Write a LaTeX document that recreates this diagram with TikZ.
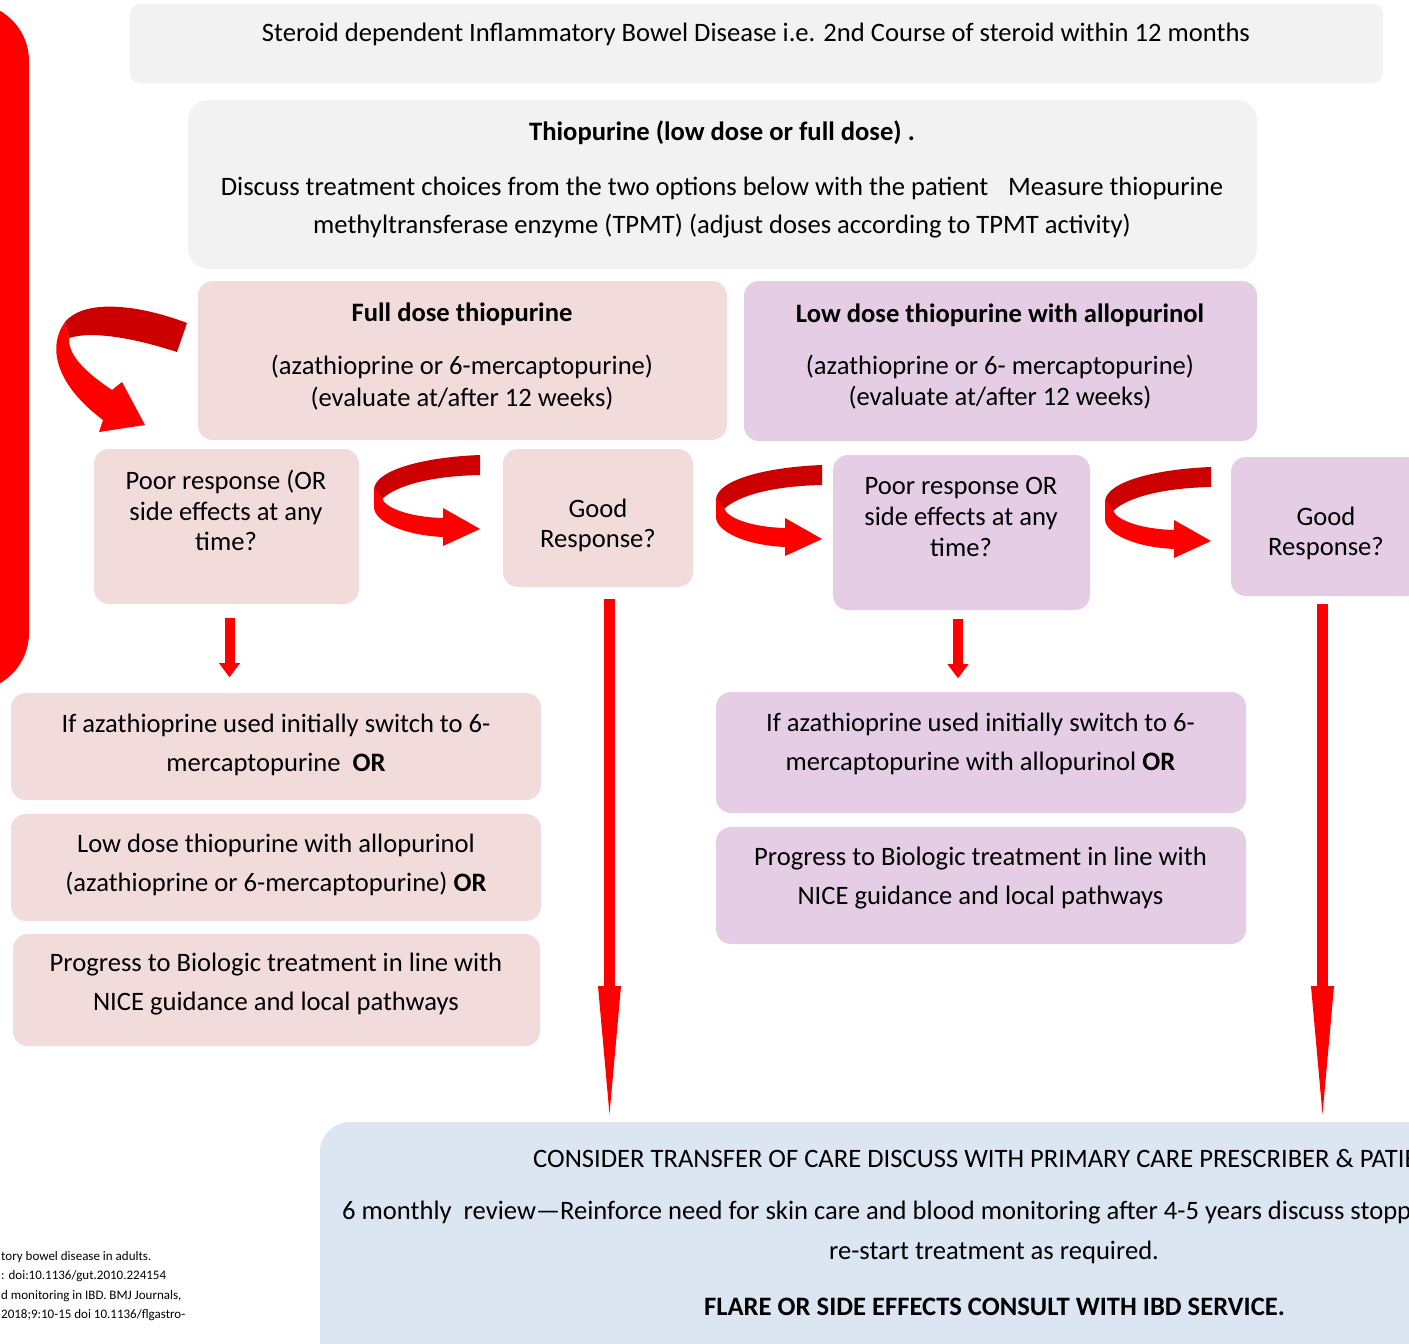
\documentclass[tikz,border=0pt]{standalone}
\usepackage{fontspec}
\setmainfont{Carlito}
\usetikzlibrary{arrows.meta}
\definecolor{boxgray}{HTML}{F2F2F2}
\definecolor{boxpink}{HTML}{F2DCDB}
\definecolor{boxlilac}{HTML}{E5CDE6}
\definecolor{boxblue}{HTML}{DCE6F2}
\definecolor{ribbondark}{HTML}{CC0000}
\definecolor{ribbonred}{HTML}{FF0000}
\tikzstyle{box}=[rectangle,rounded corners=15pt,inner sep=0pt]
\tikzstyle{txt}=[align=center,inner sep=0pt,font=\fontsize{26.6}{31}\selectfont]
\tikzset{turnarrow/.pic={
  \fill[ribbondark] (108,0) .. controls (55,2) and (4,14) .. (2,34) -- (10,44)
    .. controls (25,30) and (60,21) .. (108,20) -- cycle;
  \fill[ribbonred] (2,32) -- (2,52) .. controls (2,66) and (30,80) .. (71,82)
    -- (71,91) -- (108,74) -- (71,53) -- (71,63) .. controls (35,62) and (12,52) .. (10,43) -- cycle;
}}

\begin{document}
\begin{tikzpicture}[x=1pt,y=-1pt]
    \tikzstyle{graybox}=[box,fill=boxgray]
    \tikzstyle{pinkbox}=[box,fill=boxpink]
    \tikzstyle{lilacbox}=[box,fill=boxlilac]
    \tikzstyle{shortarrow}=[draw=ribbonred,line width=10pt,-{Triangle[length=14pt,width=21pt,line width=0pt]}]
    \tikzstyle{longarrow}=[draw=ribbonred,line width=11pt,-{Triangle[length=128pt,width=23pt,line width=0pt]}]
    \useasboundingbox (0,0) rectangle (1409,1344);
    \clip (0,0) rectangle (1409,1344);

    % red side bar
    \fill[ribbonred,rounded corners=58pt] (-60,3) rectangle (29,691);

    % top boxes
    \node[graybox,rounded corners=10pt,minimum width=1253pt,minimum height=79pt] (steroid) at (756.5,43.5) {};
    \node[txt] (steroidtxt) at (756,34) {Steroid dependent Inflammatory Bowel Disease i.e. 2nd Course of steroid within 12 months};
    \node[graybox,rounded corners=20pt,minimum width=1069pt,minimum height=169pt] (thio) at (722.5,184.5) {};
    \node[txt,font=\fontsize{26.6}{38}\selectfont] (thiotxt) at (722,179.5) {\textbf{Thiopurine (low dose or full dose) .}\\[17pt]
      Discuss treatment choices from the two options below with the patient\hspace{0.75em}Measure thiopurine\\
      methyltransferase enzyme (TPMT) (adjust doses according to TPMT activity)};

    \node[pinkbox,minimum width=529pt,minimum height=159pt] (fulldose) at (462.5,360.5) {};
    \node[txt,font=\fontsize{26.6}{32}\selectfont] (fulltxt) at (462,356.5) {\textbf{Full dose thiopurine}\\[21pt]
      (azathioprine or 6-mercaptopurine)\\(evaluate at/after 12 weeks)};
    \node[lilacbox,minimum width=513pt,minimum height=160pt] (lowdose) at (1000.5,361) {};
    \node[txt,font=\fontsize{26.6}{30.5}\selectfont] (lowtxt) at (1000,356.5) {\textbf{Low dose thiopurine with allopurinol}\\[22pt]
      (azathioprine or 6- mercaptopurine)\\(evaluate at/after 12 weeks)};

    % response boxes
    \node[pinkbox,minimum width=265pt,minimum height=155pt] (poorL) at (226.5,526.5) {};
    \node[txt,font=\fontsize{26.6}{30.5}\selectfont] (poorLtxt) at (226,510.5) {Poor response (OR\\side effects at any\\time?};
    \node[pinkbox,minimum width=190pt,minimum height=138pt] (goodL) at (598,518) {};
    \node[txt,font=\fontsize{26.6}{30}\selectfont] (goodLtxt) at (598,525) {Good\\Response?};
    \node[lilacbox,minimum width=257pt,minimum height=155pt] (poorR) at (961.5,532.5) {};
    \node[txt,font=\fontsize{26.6}{31}\selectfont] (poorRtxt) at (961,517) {Poor response OR\\side effects at any\\time?};
    \node[lilacbox,minimum width=190pt,minimum height=139pt] (goodR) at (1326,526.5) {};
    \node[txt,font=\fontsize{26.6}{30}\selectfont] (goodRtxt) at (1326,533) {Good\\Response?};

    % options after poor response
    \node[pinkbox,minimum width=530pt,minimum height=107pt] (leftA) at (276,746.5) {};
    \node[txt,font=\fontsize{26.6}{39}\selectfont] (leftAtxt) at (276,744.5) {If azathioprine used initially switch to 6-\\mercaptopurine\ \ \textbf{OR}};
    \node[pinkbox,minimum width=530pt,minimum height=107pt] (leftB) at (276,867.5) {};
    \node[txt,font=\fontsize{26.6}{39}\selectfont] (leftBtxt) at (276,864.5) {Low dose thiopurine with allopurinol\\(azathioprine or 6-mercaptopurine) \textbf{OR}};
    \node[pinkbox,minimum width=527pt,minimum height=112pt] (leftC) at (276.5,990) {};
    \node[txt,font=\fontsize{26.6}{39}\selectfont] (leftCtxt) at (276,984.5) {Progress to Biologic treatment in line with\\NICE guidance and local pathways};
    \node[lilacbox,minimum width=530pt,minimum height=121pt] (rightA) at (981,752.5) {};
    \node[txt,font=\fontsize{26.6}{39}\selectfont] (rightAtxt) at (980.5,743.5) {If azathioprine used initially switch to 6-\\mercaptopurine with allopurinol \textbf{OR}};
    \node[lilacbox,minimum width=530pt,minimum height=117pt] (rightB) at (981,885.5) {};
    \node[txt,font=\fontsize{26.6}{39}\selectfont] (rightBtxt) at (980.5,878.5) {Progress to Biologic treatment in line with\\NICE guidance and local pathways};

    % transfer of care
    \node[box,fill=boxblue,rounded corners=30pt,minimum width=1348pt,minimum height=278pt] (transfer) at (994,1261) {};
    \node[txt,anchor=west] (transfer1) at (533,1158) {CONSIDER TRANSFER OF CARE DISCUSS WITH PRIMARY CARE PRESCRIBER \& PATIENT};
    \node[txt,anchor=west] (transfer2) at (342,1213) {6 monthly\ \ review---Reinforce need for skin care and blood monitoring after 4-5 years discuss stopping};
    \node[txt] (transfer3) at (994,1252) {re-start treatment as required.};
    \node[txt] (transfer4) at (994.5,1307) {\textbf{FLARE OR SIDE EFFECTS CONSULT WITH IBD SERVICE.}};

    % references
    \node[txt,align=left,anchor=west,font=\fontsize{13}{19.3}\selectfont] (refs) at (1,1286) {tory bowel disease in adults.\\: doi:10.1136/gut.2010.224154\\d monitoring in IBD. BMJ Journals,\\2018;9:10-15 doi 10.1136/flgastro-};

    % curved arrows
    \fill[ribbondark] (187,323) .. controls (140,305) and (85,298) .. (65,322) -- (69,338)
      .. controls (95,330) and (140,340) .. (177,352) -- cycle;
    \fill[ribbonred] (65,322) .. controls (45,350) and (60,388) .. (103,420) -- (99,432) -- (145,425)
      -- (122,382) -- (112,390) .. controls (85,372) and (68,355) .. (69,338) -- cycle;
    \pic at (372,455) {turnarrow};
    \pic at (714,465) {turnarrow};
    \pic at (1103,467) {turnarrow};

    % straight arrows
    \draw[shortarrow] ([xshift=3pt,yshift=-14pt]poorL.south) -- ++(0,59);
    \draw[shortarrow] ([xshift=-3.5pt,yshift=-9pt]poorR.south) -- ++(0,59);
    \draw[longarrow] ([xshift=11.5pt,yshift=-12pt]goodL.south) -- ++(0,515);
    \draw[longarrow] ([xshift=-3.5pt,yshift=-8pt]goodR.south) -- ++(0,510);
\end{tikzpicture}
\end{document}
